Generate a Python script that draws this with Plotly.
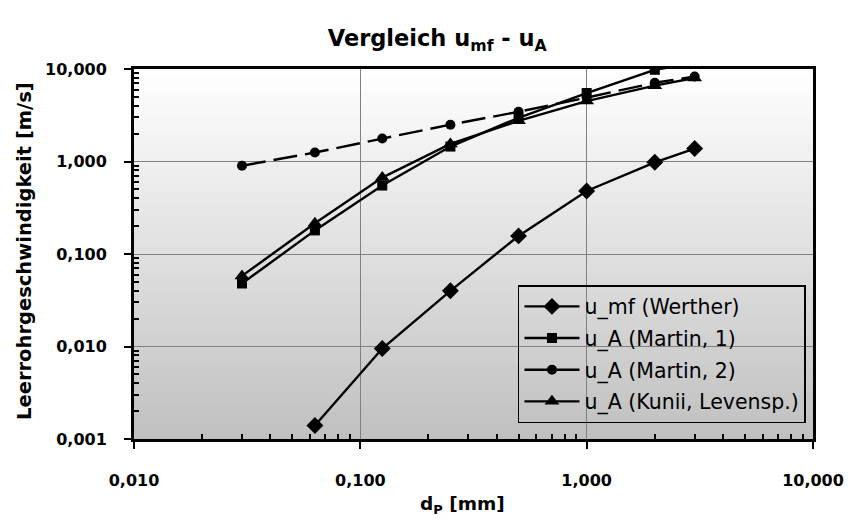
import plotly.graph_objects as go

# ---- data ----
d_p = [0.03, 0.063, 0.125, 0.25, 0.5, 1.0, 2.0, 3.0]
u_mf_werther = [None, 0.0014, 0.0095, 0.040, 0.157, 0.48, 0.98, 1.38]
u_a_martin1 = [0.048, 0.18, 0.55, 1.45, 2.97, 5.5, 9.8, 11.6]
u_a_martin2 = [0.90, 1.25, 1.77, 2.5, 3.45, 4.9, 7.1, 8.3]
u_a_kunii = [0.058, 0.215, 0.67, 1.55, 2.75, 4.5, 6.6, 8.0]

series_names = ["u_mf (Werther)", "u_A (Martin, 1)", "u_A (Martin, 2)", "u_A (Kunii, Levensp.)"]

x_tickvals = [0.01, 0.1, 1, 10]
x_ticktext = ["0,010", "0,100", "1,000", "10,000"]
y_tickvals = [0.001, 0.01, 0.1, 1, 10]
y_ticktext = ["0,001", "0,010", "0,100", "1,000", "10,000"]

FONT = "DejaVu Sans"

fig = go.Figure()

styles = [
    dict(symbol="diamond", size=13, dash="solid"),
    dict(symbol="square", size=10, dash="solid"),
    dict(symbol="circle", size=10, dash="24px,8px"),
    dict(symbol="triangle-up", size=13, dash="solid"),
]
for i, (name, ys) in enumerate(zip(series_names, [u_mf_werther, u_a_martin1, u_a_martin2, u_a_kunii])):
    st = styles[i]
    fig.add_trace(go.Scatter(
        x=d_p, y=ys, name=name, mode="lines+markers",
        legendgroup=f"g{i}",
        line=dict(color="black", width=2.4, dash=st["dash"]),
        marker=dict(symbol=st["symbol"], size=st["size"], color="black"),
        connectgaps=False,
    ))

# gradient background strips (white top -> silver bottom)
n = 100
shapes = []
for k in range(n):
    t = (k + 0.5) / n  # 0 bottom, 1 top
    v = int(round(192 + (255 - 192) * t))
    shapes.append(dict(type="rect", xref="x domain", yref="y domain",
                       x0=0, x1=1, y0=k / n, y1=(k + 1) / n + 0.002,
                       fillcolor=f"rgb({v},{v},{v})", line=dict(width=0),
                       layer="below"))

minor_x = [m * 10 ** e for e in range(-2, 1) for m in range(2, 10)]
minor_y = [m * 10 ** e for e in range(-3, 1) for m in range(2, 10)]

tickfont = dict(size=16, family=FONT, color="black", weight="bold")

fig.update_layout(
    width=849, height=529,
    margin=dict(l=134, r=36, t=69, b=90, autoexpand=False),
    paper_bgcolor="white",
    plot_bgcolor="rgba(0,0,0,0)",
    shapes=shapes,
    font=dict(family=FONT, color="black"),
    title=dict(text="<b>Vergleich u<sub>mf</sub> - u<sub>A</sub></b>",
               x=0.515, xanchor="center", y=1 - 38 / 529, yanchor="middle",
               font=dict(size=22.5, family=FONT, color="black")),
    showlegend=True,
    legend=dict(x=0.5655, y=0.416, xanchor="left", yanchor="top",
                bgcolor="rgba(0,0,0,0)", bordercolor="black", borderwidth=1.5,
                font=dict(size=20.5, family=FONT, color="black"),
                traceorder="grouped", tracegroupgap=2, itemwidth=55,
                itemclick=False),
    xaxis=dict(type="log", range=[-2, 1], automargin=False,
               tickmode="array", tickvals=x_tickvals, ticktext=x_ticktext,
               ticks="outside", ticklen=7, tickwidth=1.5, tickcolor="black",
               ticklabelstandoff=18,
               tickfont=tickfont,
               showline=True, linewidth=3, linecolor="black", mirror=True,
               showgrid=True, gridcolor="#808080", gridwidth=1,
               zeroline=False,
               minor=dict(tickmode="array", tickvals=minor_x, ticks="inside",
                          ticklen=5, tickwidth=1.5, tickcolor="black", showgrid=False)),
    yaxis=dict(type="log", range=[-3, 1], automargin=False,
               tickmode="array", tickvals=y_tickvals, ticktext=y_ticktext,
               ticks="outside", ticklen=7, tickwidth=1.5, tickcolor="black",
               ticklabelstandoff=14,
               tickfont=tickfont,
               showline=True, linewidth=3, linecolor="black", mirror=True,
               showgrid=True, gridcolor="#808080", gridwidth=1,
               zeroline=False,
               minor=dict(tickmode="array", tickvals=minor_y, ticks="inside",
                          ticklen=5, tickwidth=1.5, tickcolor="black", showgrid=False)),
    annotations=[
        dict(text="<b>d<sub>P</sub> [mm]</b>", xref="paper", yref="paper",
             x=(462 - 134) / 679, y=-(505 - 439) / 370, xanchor="center", yanchor="middle",
             showarrow=False, font=dict(size=18.5, family=FONT, color="black")),
        dict(text="<b>Leerrohrgeschwindigkeit [m/s]</b>", xref="paper", yref="paper",
             x=(24 - 134) / 679, y=(439 - 251) / 370, xanchor="center", yanchor="middle",
             textangle=-90, showarrow=False, font=dict(size=19.5, family=FONT, color="black")),
    ],
)

fig.write_html("out.html",
               config={"displayModeBar": False},
               post_script="document.body.style.margin='0';document.body.style.overflow='hidden';")
